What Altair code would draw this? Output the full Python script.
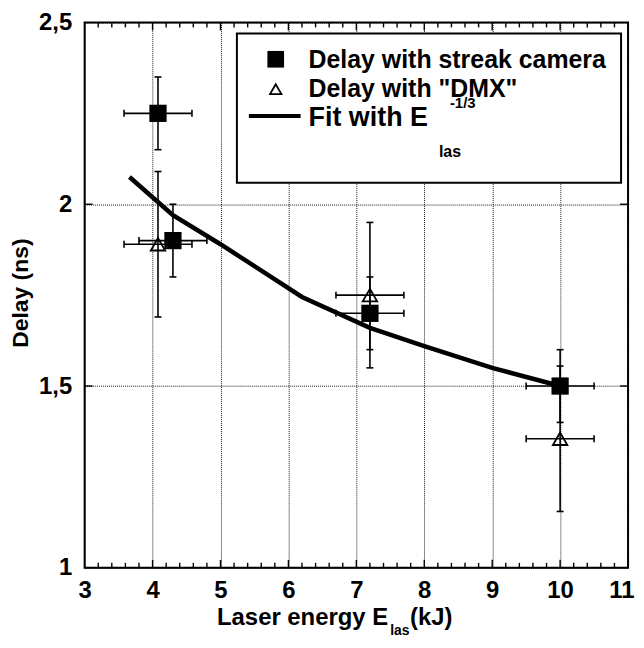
import altair as alt
import pandas as pd

# ---------------- data ----------------
X_DOMAIN = [3, 11]
Y_DOMAIN = [1, 2.5]
x_major = [3, 4, 5, 6, 7, 8, 9, 10, 11]
x_inner = [4, 5, 6, 7, 8, 9, 10]
x_minor = [3.2, 3.4, 3.6, 3.8, 4.2, 4.4, 4.6, 4.8, 5.2, 5.4, 5.6, 5.8,
           6.2, 6.4, 6.6, 6.8, 7.2, 7.4, 7.6, 7.8, 8.2, 8.4, 8.6, 8.8,
           9.2, 9.4, 9.6, 9.8, 10.2, 10.4, 10.6, 10.8]
y_major = [1, 1.5, 2, 2.5]
y_inner = [1.5, 2]

streak_energy = [4.08, 4.3, 7.2, 10.0]
streak_delay = [2.25, 1.90, 1.70, 1.50]
streak_err_energy = [0.5, 0.5, 0.5, 0.5]
streak_err_delay = [0.1, 0.1, 0.1, 0.1]

dmx_energy = [4.08, 7.2, 10.0]
dmx_delay = [1.89, 1.75, 1.355]
dmx_err_energy = [0.5, 0.5, 0.5]
dmx_err_delay = [0.2, 0.2, 0.2]

fit_energy = [3.66, 4.3, 5.0, 6.2, 7.2, 8.0, 9.0, 10.0]
fit_delay = [2.075, 1.97, 1.89, 1.745, 1.66, 1.61, 1.55, 1.50]

legend_labels = ["Delay with streak camera", 'Delay with "DMX"', "Fit with E"]
x_title = ["Laser energy E", "las", "(kJ)"]
y_title = "Delay (ns)"

FONT = "Liberation Sans"
W, H = 546, 548

# ---------------- tables ----------------
def table(E, D, dE, dD):
    return pd.DataFrame({
        "E": E, "D": D,
        "Emin": [e - d for e, d in zip(E, dE)],
        "Emax": [e + d for e, d in zip(E, dE)],
        "Dmin": [v - d for v, d in zip(D, dD)],
        "Dmax": [v + d for v, d in zip(D, dD)],
    })

streak = table(streak_energy, streak_delay, streak_err_energy, streak_err_delay)
dmx = table(dmx_energy, dmx_delay, dmx_err_energy, dmx_err_delay)
allpts = pd.concat([streak, dmx], ignore_index=True)
fit = pd.DataFrame({"E": fit_energy, "D": fit_delay})

caps_x = pd.concat([
    pd.DataFrame({"E": allpts["Emin"], "D": allpts["D"]}),
    pd.DataFrame({"E": allpts["Emax"], "D": allpts["D"]}),
], ignore_index=True)
caps_y = pd.concat([
    pd.DataFrame({"E": allpts["E"], "D": allpts["Dmin"]}),
    pd.DataFrame({"E": allpts["E"], "D": allpts["Dmax"]}),
], ignore_index=True)

# inward frame ticks, expressed in data units of each scale
px_y = (Y_DOMAIN[1] - Y_DOMAIN[0]) / H
px_x = (X_DOMAIN[1] - X_DOMAIN[0]) / W
vt_rows = []
for v in x_inner:
    vt_rows.append((v, Y_DOMAIN[0], Y_DOMAIN[0] + 8 * px_y))
    vt_rows.append((v, Y_DOMAIN[1] - 8 * px_y, Y_DOMAIN[1]))
for v in x_minor:
    vt_rows.append((v, Y_DOMAIN[0], Y_DOMAIN[0] + 5 * px_y))
    vt_rows.append((v, Y_DOMAIN[1] - 5 * px_y, Y_DOMAIN[1]))
vticks = pd.DataFrame(vt_rows, columns=["E", "D0", "D1"])
ht_rows = []
for v in y_inner:
    ht_rows.append((v, X_DOMAIN[0], X_DOMAIN[0] + 8 * px_x))
    ht_rows.append((v, X_DOMAIN[1] - 8 * px_x, X_DOMAIN[1]))
hticks = pd.DataFrame(ht_rows, columns=["D", "E0", "E1"])

xs = alt.Scale(domain=X_DOMAIN, nice=False, zero=False)
ys = alt.Scale(domain=Y_DOMAIN, nice=False, zero=False)

def X(field, axis=None):
    return alt.X(field, type="quantitative", scale=xs, axis=axis)

def Y(field, axis=None):
    return alt.Y(field, type="quantitative", scale=ys, axis=axis)

# ---------------- axes (labels + dotted grid) ----------------
lab_style = dict(labelFont=FONT, labelFontSize=24, labelFontWeight="bold",
                 labelColor="black", title=None)
ax_main = alt.Chart(fit).mark_point(opacity=0).encode(
    x=X("E", alt.Axis(orient="bottom", values=x_major, ticks=False, domain=False,
                      grid=True, gridDash=[1, 1], gridColor="black", gridWidth=1,
                      gridOpacity=0.9, labelPadding=11, labelFlush=False,
                      labelAlign={"condition": {"test": "datum.value == 11", "value": "right"},
                                  "value": "center"},
                      labelOffset={"condition": {"test": "datum.value == 11", "value": 6},
                                   "value": 0},
                      format="d", **lab_style)),
    y=Y("D", alt.Axis(orient="left", values=y_major, ticks=False, domain=False,
                      grid=True, gridDash=[1, 1], gridColor="black", gridWidth=1,
                      gridOpacity=0.9, labelPadding=13, labelFlush=False,
                      labelExpr="replace(format(datum.value, '~g'), '.', ',')",
                      **lab_style)),
)

tk = dict(color="black", strokeWidth=1.4, opacity=1)
vtick_layer = alt.Chart(vticks).mark_rule(**tk).encode(x=X("E"), y=Y("D0"), y2="D1")
htick_layer = alt.Chart(hticks).mark_rule(**tk).encode(y=Y("D"), x=X("E0"), x2="E1")

# ---------------- data layers ----------------
hbars = alt.Chart(allpts).mark_rule(color="black", strokeWidth=1.6).encode(
    x=X("Emin"), x2="Emax", y=Y("D"))
vbars = alt.Chart(allpts).mark_rule(color="black", strokeWidth=1.6).encode(
    x=X("E"), y=Y("Dmin"), y2="Dmax")
capx = alt.Chart(caps_x).mark_tick(color="black", orient="vertical", size=7,
                                   thickness=1.6, opacity=1).encode(x=X("E"), y=Y("D"))
capy = alt.Chart(caps_y).mark_tick(color="black", orient="horizontal", size=7,
                                   thickness=1.6, opacity=1).encode(x=X("E"), y=Y("D"))
fitline = alt.Chart(fit).mark_line(color="black", strokeWidth=4.5).encode(
    x=X("E"), y=Y("D"))
squares = alt.Chart(streak).mark_point(shape="square", filled=True, size=300,
                                       color="black", opacity=1).encode(
    x=X("E"), y=Y("D"))
triangles = alt.Chart(dmx).mark_point(shape="triangle-up", filled=False, size=210,
                                      color="black", strokeWidth=1.8, opacity=1).encode(
    x=X("E"), y=Y("D"))

# ---------------- frame + legend (drawn) ----------------
one = pd.DataFrame({"a": [0]})
txt = dict(font=FONT, fontWeight="bold", color="black", baseline="middle")

frame = alt.Chart(one).mark_rect(fill=None, fillOpacity=0, stroke="black", strokeWidth=2).encode(
    x=alt.value(0), x2=alt.value(W), y=alt.value(0), y2=alt.value(H))
legend_box = alt.Chart(one).mark_rect(fill="white", stroke="black", strokeWidth=2).encode(
    x=alt.value(153), x2=alt.value(539), y=alt.value(11), y2=alt.value(161))
leg_sq = alt.Chart(one).mark_point(shape="square", filled=True, size=280, color="black",
                                   opacity=1).encode(x=alt.value(192), y=alt.value(37))
leg_tri = alt.Chart(one).mark_point(shape="triangle-up", filled=False, size=130,
                                    color="black", strokeWidth=1.8, opacity=1).encode(
    x=alt.value(192), y=alt.value(67))
leg_line = alt.Chart(one).mark_rule(color="black", strokeWidth=4).encode(
    x=alt.value(165), x2=alt.value(217), y=alt.value(94))
leg_t1 = alt.Chart(one).mark_text(text=legend_labels[0], align="left", fontSize=25, **txt).encode(
    x=alt.value(225), y=alt.value(38))
leg_t2 = alt.Chart(one).mark_text(text=legend_labels[1], align="left", fontSize=25, **txt).encode(
    x=alt.value(225), y=alt.value(67))
leg_t3 = alt.Chart(one).mark_text(text=legend_labels[2], align="left", fontSize=27, **txt).encode(
    x=alt.value(225), y=alt.value(96))
leg_sub = alt.Chart(one).mark_text(text="las", align="left", fontSize=16, **txt).encode(
    x=alt.value(356), y=alt.value(130))
leg_sup = alt.Chart(one).mark_text(text="-1/3", align="left", fontSize=15, **txt).encode(
    x=alt.value(367), y=alt.value(81))

# ---------------- axis titles (drawn) ----------------
xt1 = alt.Chart(one).mark_text(text=x_title[0], align="left", fontSize=24, **txt).encode(
    x=alt.value(133), y=alt.value(598))
xt2 = alt.Chart(one).mark_text(text=x_title[1], align="left", fontSize=14, **txt).encode(
    x=alt.value(307), y=alt.value(611))
xt3 = alt.Chart(one).mark_text(text=x_title[2], align="left", fontSize=24, **txt).encode(
    x=alt.value(327), y=alt.value(598))
yt = alt.Chart(one).mark_text(text=y_title, align="center", fontSize=23, angle=270, **txt).encode(
    x=alt.value(-64), y=alt.value(272))

chart = alt.layer(
    ax_main, vtick_layer, htick_layer,
    hbars, vbars, capx, capy, fitline, squares, triangles, frame,
    legend_box, leg_sq, leg_tri, leg_line, leg_t1, leg_t2, leg_t3, leg_sub, leg_sup,
    xt1, xt2, xt3, yt,
).resolve_scale(x="independent", y="independent").properties(
    width=W, height=H,
    autosize=alt.AutoSizeParams(type="none"),
    padding={"left": 77, "top": 13, "right": 8, "bottom": 71},
).configure_view(stroke=None).configure(background="white")

chart.save("out.html", embed_options={"renderer": "svg", "actions": False})
